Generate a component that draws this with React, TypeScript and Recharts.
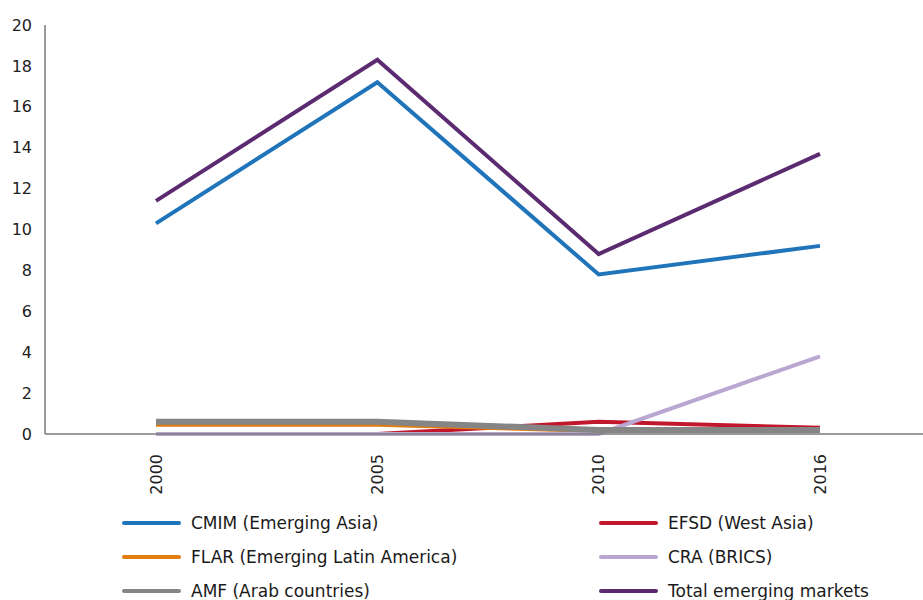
import React from "react";
import { LineChart, Line, XAxis, YAxis, Legend } from "recharts";

const years = ["2000", "2005", "2010", "2016"];
const cmim = [10.3, 17.2, 7.8, 9.2];
const efsd = [0, 0, 0.6, 0.3];
const flar = [0.45, 0.45, 0.15, 0.15];
const cra = [0, 0, 0, 3.8];
const amf = [0.6, 0.6, 0.2, 0.2];
const total = [11.4, 18.3, 8.8, 13.7];
const yTicks = [0, 2, 4, 6, 8, 10, 12, 14, 16, 18, 20];

const series = [
  { key: "cmim", name: "CMIM (Emerging Asia)", color: "#1f74ba", width: 4 },
  { key: "efsd", name: "EFSD (West Asia)", color: "#c1172c", width: 4 },
  { key: "flar", name: "FLAR (Emerging Latin America)", color: "#e27d0f", width: 4 },
  { key: "cra", name: "CRA (BRICS)", color: "#b9a7d2", width: 4 },
  { key: "amf", name: "AMF (Arab countries)", color: "#858585", width: 6 },
  { key: "total", name: "Total emerging markets", color: "#5b2a70", width: 4 },
];

const data = years.map((y, i) => ({
  year: y,
  cmim: cmim[i],
  efsd: efsd[i],
  flar: flar[i],
  cra: cra[i],
  amf: amf[i],
  total: total[i],
}));

const legendOrder = ["cmim", "efsd", "flar", "cra", "amf", "total"];

const XTick = ({ x, y, payload }: any) => (
  <text
    x={x}
    y={y}
    transform={`rotate(-90, ${x}, ${y})`}
    textAnchor="end"
    dy="0.35em"
    dx={-12}
    fontSize={16}
    fill="#222"
    fontFamily="DejaVu Sans, Verdana, sans-serif"
  >
    {payload.value}
  </text>
);

const LegendContent = () => (
  <div style={{ position: "relative", width: 923, height: 96 }}>
    {legendOrder.map((k, i) => {
      const s = series.find((d) => d.key === k)!;
      const col = i % 2;
      const row = Math.floor(i / 2);
      return (
        <div
          key={k}
          style={{
            position: "absolute",
            left: col === 0 ? 122 : 599,
            top: 7 + row * 34,
            display: "flex",
            alignItems: "center",
            whiteSpace: "nowrap",
            height: 24,
          }}
        >
          <span style={{ display: "inline-block", width: 59, height: 4, borderRadius: 2, background: s.color, marginRight: 10 }} />
          <span style={{ fontSize: 17, color: "#1a1a1a", fontFamily: "'DejaVu Sans', sans-serif" }}>
            {s.name}
          </span>
        </div>
      );
    })}
  </div>
);

export default function App() {
  return (
    <div style={{ position: "fixed", left: 0, top: 0, width: 923, height: 600, overflow: "hidden", background: "#fff" }}>
      <LineChart width={940} height={600} data={data} margin={{ top: 25, right: 9, left: 0, bottom: 0 }}>
        <XAxis
          dataKey="year"
          tick={<XTick />}
          tickLine={false}
          axisLine={{ stroke: "#7a7a7a", strokeWidth: 1.5 }}
          height={70}
          interval={0}
          padding={{ left: 111, right: 111 }}
        />
        <YAxis
          domain={[0, 20]}
          ticks={yTicks}
          width={45}
          tickLine={false}
          tickSize={0}
          tickMargin={13}
          axisLine={{ stroke: "#7a7a7a", strokeWidth: 1.5 }}
          tick={{ fontSize: 16, fill: "#222", fontFamily: "DejaVu Sans, Verdana, sans-serif" }}
        />
        <Legend verticalAlign="bottom" height={96} content={<LegendContent />} wrapperStyle={{ left: 0, width: 923 }} />
        {series.map((s) => (
          <Line
            key={s.key}
            type="linear"
            dataKey={s.key}
            name={s.name}
            stroke={s.color}
            strokeWidth={s.width}
            dot={false}
            isAnimationActive={false}
          />
        ))}
      </LineChart>
    </div>
  );
}
